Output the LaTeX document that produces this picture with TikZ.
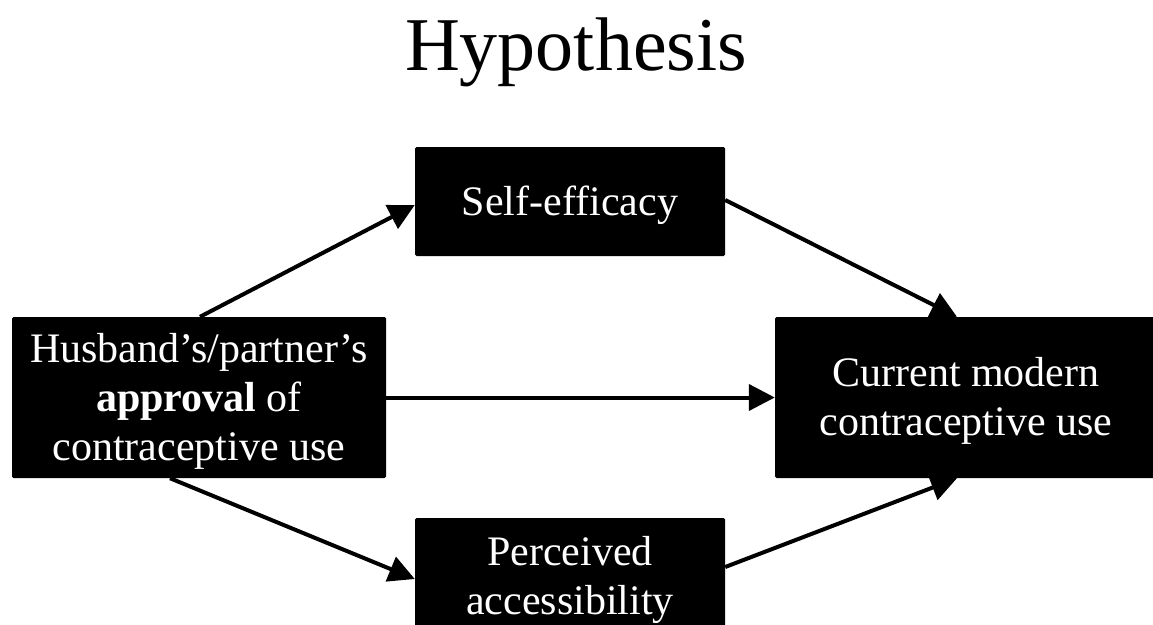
\documentclass[tikz,border=0pt]{standalone}
\usepackage{fontspec}
\setmainfont{Liberation Serif}
\usetikzlibrary{arrows.meta,calc}
\newcommand\lwrtext[1]{\raisebox{-4pt}[\height][\depth]{\begin{tabular}{@{}c@{}}#1\end{tabular}}}
\begin{document}
\begin{tikzpicture}[x=1pt,y=-1pt,
  blk/.style={fill=black,text=white,inner sep=0pt,rounded corners=1.5pt,
    font=\fontsize{42}{49}\selectfont},
  conn/.style={line width=4pt,-{Triangle[length=26pt,width=26pt]}}]
\useasboundingbox[fill=white] (0,0) rectangle (1153,624);
\node[font=\fontsize{76}{80}\selectfont,anchor=base] (title) at (576,70) {Hypothesis};
\node[blk,minimum width=374pt,minimum height=161pt] (L) at (199,397.5)
  {\lwrtext{Husband’s/partner’s\\\textbf{approval} of\\contraceptive use}};
\node[blk,minimum width=310pt,minimum height=109pt] (S) at (570,201.5) {\lwrtext{Self-efficacy}};
\node[blk,minimum width=382pt,minimum height=161pt] (R) at (966,397.5)
  {\lwrtext{Current modern\\contraceptive use}};
\node[blk,minimum width=310pt,minimum height=116pt] (B) at (570,576)
  {\lwrtext{Perceived\\accessibility}};
\draw[conn] ([xshift=1pt]L.north) -- ([yshift=-3.5pt]S.west);
\draw[conn] (L.east) -- (R.west);
\draw[conn] ([xshift=-29pt]L.south) -- ([yshift=-3pt]B.west);
\draw[conn] ([yshift=1.5pt]S.east) -- ([xshift=-9pt]R.north);
\draw[conn] ([yshift=9pt]B.east) -- ([xshift=-9pt]R.south);
\end{tikzpicture}
\end{document}
